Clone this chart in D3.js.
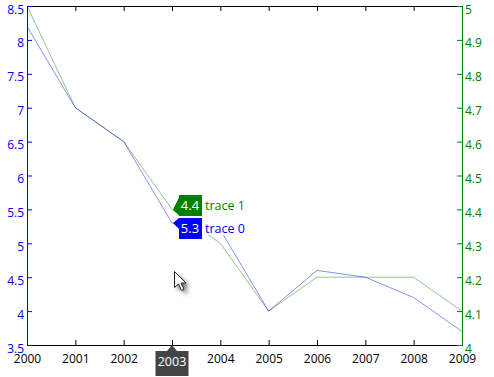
<!DOCTYPE html>
<html>
<head>
<meta charset="utf-8">
<script src="https://d3js.org/d3.v7.min.js"></script>
<style>
  html, body { margin: 0; padding: 0; background: #fff; }
  text { font-family: "Open Sans", sans-serif; font-size: 12px; }
</style>
</head>
<body>
<div id="my_dataviz"></div>
<script>
// data
var years = [2000, 2001, 2002, 2003, 2004, 2005, 2006, 2007, 2008, 2009];
var trace0 = [8.2, 7, 6.5, 5.3, 5.2, 4, 4.6, 4.5, 4.2, 3.7];
var trace1 = [5, 4.7, 4.6, 4.4, 4.3, 4.1, 4.2, 4.2, 4.2, 4.1];
var leftTicks = [3.5, 4, 4.5, 5, 5.5, 6, 6.5, 7, 7.5, 8, 8.5];
var rightTicks = [4, 4.1, 4.2, 4.3, 4.4, 4.5, 4.6, 4.7, 4.8, 4.9, 5];
var hoverYear = 2003;

var margin = {top: 6, right: 32, bottom: 32, left: 27},
    width = 494 - margin.left - margin.right,
    height = 377 - margin.top - margin.bottom;

var svg = d3.select("#my_dataviz")
  .append("svg")
    .attr("width", 494)
    .attr("height", 377)
    .style("display", "block");

var defs = svg.append("defs");
defs.append("filter").attr("id", "blur")
    .attr("x", "-50%").attr("y", "-50%").attr("width", "200%").attr("height", "200%")
  .append("feGaussianBlur").attr("stdDeviation", 2.2);

var g = svg.append("g")
    .attr("transform", "translate(" + margin.left + "," + margin.top + ")");

var x = d3.scaleLinear().domain([2000, 2009]).range([0, width]);
var yLeft = d3.scaleLinear().domain([3.5, 8.5]).range([height, 0]);
var yRight = d3.scaleLinear().domain([4, 5]).range([height, 0]);

// lines
var lineLeft = d3.line()
  .x(function(d, i) { return x(years[i]); })
  .y(function(d) { return yLeft(d); });
var lineRight = d3.line()
  .x(function(d, i) { return x(years[i]); })
  .y(function(d) { return yRight(d); });

g.append("path").datum(trace1)
    .attr("d", lineRight)
    .attr("fill", "none")
    .attr("stroke", "#008000")
    .attr("stroke-opacity", 0.45);
g.append("path").datum(trace0)
    .attr("d", lineLeft)
    .attr("fill", "none")
    .attr("stroke", "#0000ff")
    .attr("stroke-opacity", 0.45);

// axes, ticks point inward. the hovered year label is replaced by the dark box
var xBottom = g.append("g")
    .attr("transform", "translate(0," + height + ")")
    .call(d3.axisBottom(x).tickValues(years)
      .tickFormat(function(d) { return d === hoverYear ? "" : d; })
      .tickSize(-5).tickPadding(9));
var xTop = g.append("g")
    .call(d3.axisTop(x).tickValues(years).tickFormat("").tickSize(-5));
var axisL = g.append("g")
    .call(d3.axisLeft(yLeft).tickValues(leftTicks).tickFormat(d3.format("~g")).tickSize(-5).tickPadding(3));
var axisR = g.append("g")
    .attr("transform", "translate(" + width + ",0)")
    .call(d3.axisRight(yRight).tickValues(rightTicks).tickFormat(d3.format("~g")).tickSize(-5).tickPadding(3));

var tickFont = "'Open Sans', sans-serif";
[xBottom, xTop].forEach(function(a) {
  a.selectAll("path,line").attr("stroke", "#000");
  a.selectAll("text").attr("fill", "#000").style("font-size", "12px").style("font-family", tickFont);
});
axisL.selectAll("path,line").attr("stroke", "#0000ff");
axisL.selectAll("text").attr("fill", "#0000ff").attr("dy", 7).style("font-size", "12px").style("font-family", tickFont);
axisR.selectAll("path,line").attr("stroke", "#008000");
axisR.selectAll("text").attr("fill", "#008000").attr("dy", 7).style("font-size", "12px").style("font-family", tickFont);

// hover flags
var idx = years.indexOf(hoverYear);
var flags = [
  {name: "trace 1", value: trace1[idx], color: "#008000", py: yRight(trace1[idx]), by: 189},
  {name: "trace 0", value: trace0[idx], color: "#0000ff", py: yLeft(trace0[idx]), by: 212}
];
var px = x(hoverYear) + 1;
g.append("rect")
    .attr("x", px + 6).attr("y", 189)
    .attr("width", 69).attr("height", 40)
    .attr("fill", "#fff").attr("fill-opacity", 0.9);
flags.forEach(function(f) {
  var top = Math.max(f.by, f.py - 12),
      bottom = Math.min(f.by + 21, f.py + 6);
  g.append("path")
      .attr("d", "M" + px + "," + f.py + "L" + (px + 6) + "," + top + "V" + f.by + "H" + (px + 29) + "V" + (f.by + 21) + "H" + (px + 6) + "V" + bottom + "Z")
      .attr("fill", f.color);
  g.append("text")
      .attr("x", px + 17).attr("y", f.by + 15)
      .attr("text-anchor", "middle")
      .attr("fill", "#fff")
      .style("font-size", "13px")
      .text(f.value);
  g.append("text")
      .attr("x", px + 32).attr("y", f.by + 15)
      .attr("fill", f.color)
      .style("font-size", "12.5px")
      .text(f.name);
});

// x hover label
var tx = x(hoverYear);
g.append("path")
    .attr("d", "M" + tx + "," + height + "l5,6h11.5v25h-33v-25h11.5z")
    .attr("fill", "#444");
g.append("text")
    .attr("x", tx).attr("y", height + 21)
    .attr("text-anchor", "middle")
    .attr("fill", "#fff")
    .style("font-size", "12.5px")
    .text(hoverYear);

// mouse pointer
var cursorPath = "M0,0V16L4,12.5L7,19L9.5,18L6.5,11.5H11.5Z";
svg.append("path")
    .attr("transform", "translate(178,275)")
    .attr("d", cursorPath)
    .attr("fill", "#000").attr("fill-opacity", 0.6)
    .attr("filter", "url(#blur)");
svg.append("path")
    .attr("transform", "translate(174.5,271.5)")
    .attr("d", cursorPath)
    .attr("fill", "#fff").attr("stroke", "#222").attr("stroke-width", 1);
</script>
</body>
</html>
